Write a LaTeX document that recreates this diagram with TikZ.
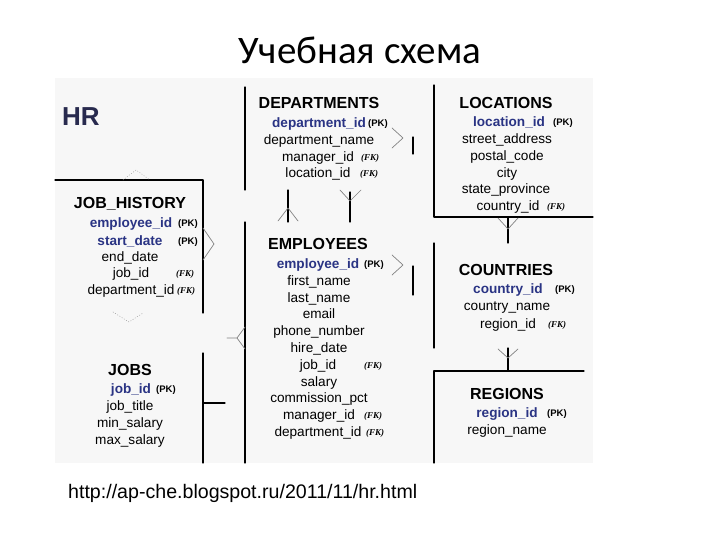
\documentclass[tikz,border=0pt]{standalone}
\usepackage{fontspec}
\setmainfont{Liberation Sans}
\newfontfamily\slidefont{Carlito}
\newfontfamily\tagfont{Liberation Serif}
\definecolor{keyblue}{RGB}{42,52,132}
\definecolor{hrnavy}{RGB}{40,42,78}
\definecolor{sheet}{RGB}{247,247,247}
\definecolor{crowgray}{RGB}{130,130,130}
\begin{document}
\begin{tikzpicture}[x=1pt, y=-1pt, line join=round, line cap=round,
	tblname/.style={font=\fontsize{16}{16}\selectfont\bfseries, inner sep=0pt, anchor=mid, yshift=-2.5pt},
	col/.style={font=\fontsize{13.6}{14}\selectfont, inner sep=0pt, anchor=mid, yshift=-2.5pt},
	keycol/.style={col, font=\fontsize{13.6}{14}\selectfont\bfseries, text=keyblue},
	pktag/.style={font=\fontsize{9.5}{10}\selectfont\bfseries, inner sep=0pt, anchor=mid west, yshift=-2pt},
	fktag/.style={font=\tagfont\fontsize{9}{10}\selectfont\bfseries\itshape, inner sep=0pt, anchor=mid west, yshift=-2pt},
	rim/.style={line width=1.1pt},
	crow/.style={crowgray, line width=0.7pt},
	crowfaint/.style={crowgray!70, line width=0.6pt, dotted}]
	\useasboundingbox (0,0) rectangle (720,540);
	\fill[sheet] (55,78) rectangle (593,463);
	% title
	\node[font=\slidefont\fontsize{39}{40}\selectfont] (title) at (360,50) {Учебная схема};
	\node[font=\fontsize{26}{26}\selectfont\bfseries, text=hrnavy, inner sep=0pt] (hr) at (81,117) {HR};
	% DEPARTMENTS
	\node[tblname] (dep) at (319,103) {DEPARTMENTS};
	\node[keycol] (dep1) at (319,122) {department\_id};
	\node[pktag] at (368,122) {(PK)};
	\node[col] (dep2) at (319,139) {department\_name};
	\node[col] (dep3) at (318,156) {manager\_id};
	\node[fktag] at (361,156) {(FK)};
	\node[col] (dep4) at (318,172) {location\_id};
	\node[fktag] at (360,172) {(FK)};
	% LOCATIONS
	\node[tblname] (loc) at (506,103) {LOCATIONS};
	\node[keycol] (loc1) at (509,121) {location\_id};
	\node[pktag] at (553,121) {(PK)};
	\node[col] (loc2) at (507,138) {street\_address};
	\node[col] (loc3) at (507,155) {postal\_code};
	\node[col] (loc4) at (507,172) {city};
	\node[col] (loc5) at (506,188) {state\_province};
	\node[col] (loc6) at (508,205) {country\_id};
	\node[fktag] at (547,205) {(FK)};
	% JOB_HISTORY
	\node[tblname] (jh) at (130,203) {JOB\_HISTORY};
	\node[keycol] (jh1) at (131,222) {employee\_id};
	\node[pktag] at (178,222) {(PK)};
	\node[keycol] (jh2) at (130,240) {start\_date};
	\node[pktag] at (178,240) {(PK)};
	\node[col] (jh3) at (130,256) {end\_date};
	\node[col] (jh4) at (131,272) {job\_id};
	\node[fktag] at (176,272) {(FK)};
	\node[col] (jh5) at (131,289) {department\_id};
	\node[fktag] at (177,289) {(FK)};
	% JOBS
	\node[tblname] (jobs) at (130,370) {JOBS};
	\node[keycol] (jobs1) at (131,388) {job\_id};
	\node[pktag] at (156,388) {(PK)};
	\node[col] (jobs2) at (130,405) {job\_title};
	\node[col] (jobs3) at (130,422) {min\_salary};
	\node[col] (jobs4) at (130,439) {max\_salary};
	% EMPLOYEES
	\node[tblname] (emp) at (318,244) {EMPLOYEES};
	\node[keycol] (emp1) at (318,263) {employee\_id};
	\node[pktag] at (364,263) {(PK)};
	\node[col] (emp2) at (319,280) {first\_name};
	\node[col] (emp3) at (319,297) {last\_name};
	\node[col] (emp4) at (319,313) {email};
	\node[col] (emp5) at (319,330) {phone\_number};
	\node[col] (emp6) at (319,347) {hire\_date};
	\node[col] (emp7) at (318,364) {job\_id};
	\node[fktag] at (364,364) {(FK)};
	\node[col] (emp8) at (319,381) {salary};
	\node[col] (emp9) at (319,397) {commission\_pct};
	\node[col] (emp10) at (319,414) {manager\_id};
	\node[fktag] at (364,414) {(FK)};
	\node[col] (emp11) at (318,431) {department\_id};
	\node[fktag] at (366,431) {(FK)};
	% COUNTRIES
	\node[tblname] (cty) at (506,270) {COUNTRIES};
	\node[keycol] (cty1) at (508,288) {country\_id};
	\node[pktag] at (555,288) {(PK)};
	\node[col] (cty2) at (507,305) {country\_name};
	\node[col] (cty3) at (508,323) {region\_id};
	\node[fktag] at (548,323) {(FK)};
	% REGIONS
	\node[tblname] (reg) at (507,394) {REGIONS};
	\node[keycol] (reg1) at (507,412) {region\_id};
	\node[pktag] at (547,412) {(PK)};
	\node[col] (reg2) at (507,429) {region\_name};
	% source
	\node[font=\fontsize{19.6}{20}\selectfont, inner sep=0pt, anchor=mid west, yshift=-2pt] (src) at (68,494) {http://ap-che.blogspot.ru/2011/11/hr.html};
	% table edges
	\draw[rim] (245,87)--(245,190);
	\draw[rim] (245,222)--(245,463);
	\draw[rim] (55,180)--(203,180)--(203,313);
	\draw[rim] (203,353)--(203,463);
	\draw[rim] (203,403)--(225,403);
	\draw[rim] (434,85)--(434,217)--(593,217);
	\draw[rim] (434,243)--(434,348);
	\draw[rim] (584,371)--(434,371)--(434,463);
	% relationship ends
	\draw[crow] (392,128)--(403,138)--(392,148);
	\draw[rim] (413,137)--(413,154);
	\draw[crow] (392,255)--(403,265)--(392,275);
	\draw[rim] (413,266)--(413,295);
	\draw[crow] (203,228)--(214,244)--(203,260);
	\draw[crow] (227,338)--(237,338) (245,327)--(237,338)--(245,349);
	\draw[rim] (288,190)--(288,222);
	\draw[crow] (278,221)--(288,208)--(298,221);
	\draw[rim] (350,192)--(350,222);
	\draw[crow] (340,190)--(350,201)--(361,190);
	\draw[rim] (508,217)--(508,243);
	\draw[crow] (498,218)--(508,229)--(518,218);
	\draw[rim] (508,348)--(508,371);
	\draw[crow] (498,349)--(508,358)--(518,349);
	\draw[crowfaint] (123,180)--(136,170)--(150,180);
	\draw[crowfaint] (113,312)--(129,322)--(143,313);
\end{tikzpicture}
\end{document}
